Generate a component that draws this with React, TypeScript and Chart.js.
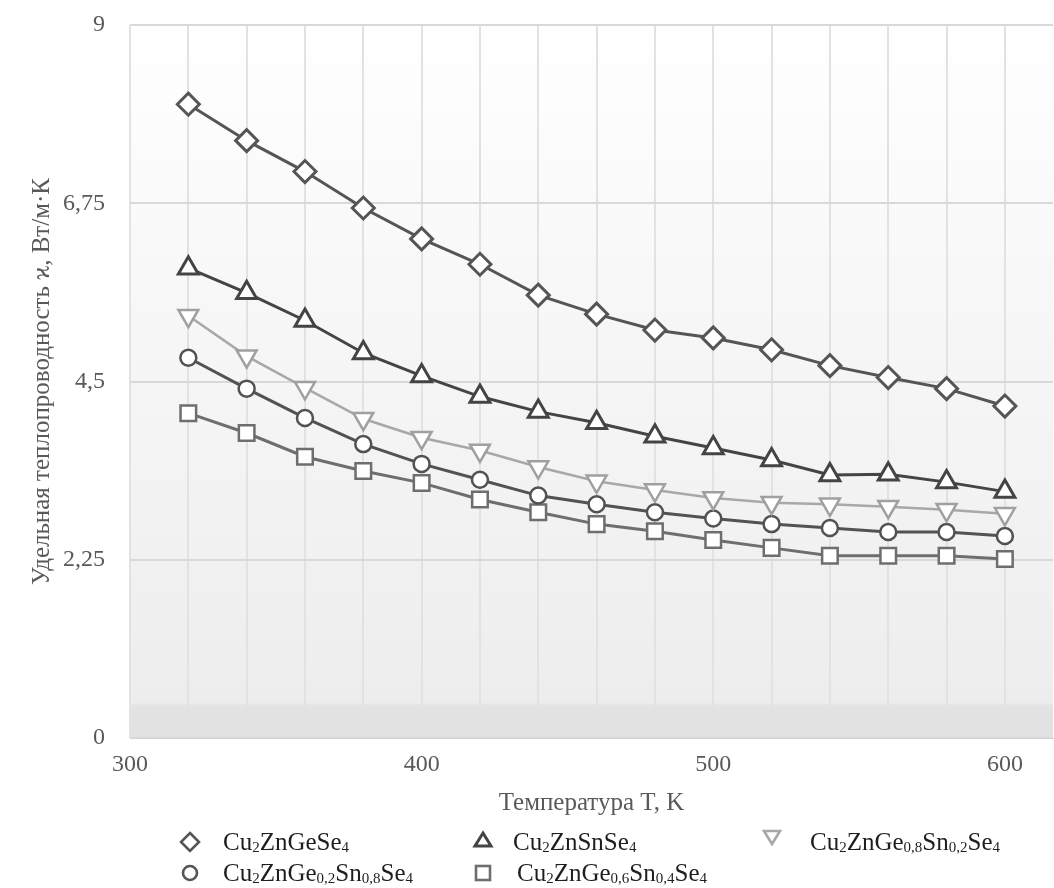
import React, { useEffect, useRef } from 'react';
import { Chart, registerables } from 'chart.js';

Chart.register(...registerables);

// ---- data ----
const temperatures = [320, 340, 360, 380, 400, 420, 440, 460, 480, 500, 520, 540, 560, 580, 600];
const cuZnGeSe4 = [8.0, 7.54, 7.15, 6.69, 6.3, 5.98, 5.59, 5.35, 5.15, 5.05, 4.9, 4.7, 4.55, 4.41, 4.19];
const cuZnSnSe4 = [5.93, 5.62, 5.27, 4.86, 4.57, 4.31, 4.12, 3.98, 3.81, 3.66, 3.51, 3.32, 3.33, 3.23, 3.11];
const ge08Sn02 = [5.33, 4.82, 4.42, 4.03, 3.79, 3.63, 3.42, 3.24, 3.13, 3.03, 2.97, 2.95, 2.92, 2.88, 2.83];
const ge02Sn08 = [4.8, 4.41, 4.04, 3.71, 3.46, 3.26, 3.06, 2.95, 2.85, 2.77, 2.7, 2.65, 2.6, 2.6, 2.55];
const ge06Sn04 = [4.1, 3.85, 3.55, 3.37, 3.22, 3.01, 2.85, 2.7, 2.61, 2.5, 2.4, 2.3, 2.3, 2.3, 2.26];

const xGridTicks = [300, 320, 340, 360, 380, 400, 420, 440, 460, 480, 500, 520, 540, 560, 580, 600];
const xLabelTicks = [300, 400, 500, 600];
const yTicks = [0, 2.25, 4.5, 6.75, 9];

const seriesLabels = [
  'Cu₂ZnGeSe₄',
  'Cu₂ZnSnSe₄',
  'Cu₂ZnGe₀,₈Sn₀,₂Se₄',
  'Cu₂ZnGe₀,₂Sn₀,₈Se₄',
  'Cu₂ZnGe₀,₆Sn₀,₄Se₄',
];
// legend markup: {..} = subscript
const legendMarkup = [
  'Cu{2}ZnGeSe{4}',
  'Cu{2}ZnSnSe{4}',
  'Cu{2}ZnGe{0,8}Sn{0,2}Se{4}',
  'Cu{2}ZnGe{0,2}Sn{0,8}Se{4}',
  'Cu{2}ZnGe{0,6}Sn{0,4}Se{4}',
];

const xTitle = 'Температура T, K';
const yTitle = 'Удельная теплопроводность ϰ, Вт/м·К';

const FONT = "'Liberation Serif', 'Times New Roman', serif";

const bgPlugin = {
  id: 'plotBg',
  beforeDraw(chart: any) {
    const { ctx, chartArea } = chart;
    if (!chartArea) return;
    const { left, top, width, height } = chartArea;
    const g = ctx.createLinearGradient(0, top, 0, top + height);
    g.addColorStop(0, '#ffffff');
    g.addColorStop(0.45, '#f6f6f6');
    g.addColorStop(0.75, '#f1f1f1');
    g.addColorStop(0.95, '#ededed');
    g.addColorStop(0.955, '#e3e3e3');
    g.addColorStop(1, '#e1e1e1');
    ctx.save();
    ctx.fillStyle = g;
    ctx.fillRect(left, top, width, height);
    ctx.restore();
  },
};

function Sub({ markup }: { markup: string }) {
  const parts: React.ReactNode[] = [];
  const re = /\{([^}]*)\}|([^{]+)/g;
  let m: RegExpExecArray | null;
  let i = 0;
  while ((m = re.exec(markup))) {
    if (m[1] !== undefined) {
      parts.push(
        <sub key={i++} style={{ fontSize: '0.6em', verticalAlign: '-0.12em', lineHeight: 0 }}>
          {m[1]}
        </sub>
      );
    } else {
      parts.push(<span key={i++}>{m[2]}</span>);
    }
  }
  return <>{parts}</>;
}

function Marker({ kind, color }: { kind: string; color: string }) {
  const s = 22;
  let shape: React.ReactNode = null;
  const common = { fill: '#ffffff', stroke: color, strokeWidth: 2.6 };
  if (kind === 'diamond') shape = <polygon points="11,2 20,11 11,20 2,11" {...common} />;
  if (kind === 'triangle') shape = <polygon points="11,4 19,17 3,17" {...common} strokeWidth={3} />;
  if (kind === 'down') shape = <polygon points="3,5 19,5 11,18" {...common} />;
  if (kind === 'circle') shape = <circle cx="11" cy="11" r="7" {...common} />;
  if (kind === 'square') shape = <rect x="4" y="4" width="14" height="14" {...common} />;
  return (
    <svg width={s} height={s} viewBox="0 0 22 22" style={{ display: 'block' }}>
      {shape}
    </svg>
  );
}

const legendPos = [
  { kind: 'diamond', color: '#555555', mx: 190, my: 842, tx: 223, ty: 842 },
  { kind: 'triangle', color: '#444444', mx: 483, my: 840, tx: 513, ty: 842 },
  { kind: 'down', color: '#a8a8a8', mx: 772, my: 837, tx: 810, ty: 842 },
  { kind: 'circle', color: '#555555', mx: 190, my: 873, tx: 223, ty: 873 },
  { kind: 'square', color: '#6e6e6e', mx: 483, my: 873, tx: 517, ty: 873 },
];

export default function App() {
  const canvasRef = useRef<HTMLCanvasElement | null>(null);

  useEffect(() => {
    if (!canvasRef.current) return;
    const mk = (vals: number[]) => temperatures.map((t, i) => ({ x: t, y: vals[i] }));
    const chart = new Chart(canvasRef.current, {
      type: 'line',
      data: {
        datasets: [
          {
            label: seriesLabels[0],
            data: mk(cuZnGeSe4),
            borderColor: '#555555',
            borderWidth: 3,
            pointStyle: 'rectRot',
            pointRadius: 11,
            pointBorderWidth: 3,
            pointBackgroundColor: '#ffffff',
            pointBorderColor: '#555555',
          },
          {
            label: seriesLabels[1],
            data: mk(cuZnSnSe4),
            borderColor: '#444444',
            borderWidth: 3,
            pointStyle: 'triangle',
            pointRadius: 11.5,
            pointBorderWidth: 3,
            pointBackgroundColor: '#ffffff',
            pointBorderColor: '#444444',
          },
          {
            label: seriesLabels[2],
            data: mk(ge08Sn02),
            borderColor: '#a8a8a8',
            borderWidth: 2.5,
            pointStyle: 'triangle',
            rotation: 180,
            pointRadius: 11.5,
            pointBorderWidth: 2.5,
            pointBackgroundColor: '#ffffff',
            pointBorderColor: '#a0a0a0',
          } as any,
          {
            label: seriesLabels[3],
            data: mk(ge02Sn08),
            borderColor: '#525252',
            borderWidth: 3,
            pointStyle: 'circle',
            pointRadius: 8,
            pointBorderWidth: 2.5,
            pointBackgroundColor: '#ffffff',
            pointBorderColor: '#525252',
          },
          {
            label: seriesLabels[4],
            data: mk(ge06Sn04),
            borderColor: '#6e6e6e',
            borderWidth: 3,
            pointStyle: 'rect',
            pointRadius: 11,
            pointBorderWidth: 2.5,
            pointBackgroundColor: '#ffffff',
            pointBorderColor: '#6e6e6e',
          },
        ],
      },
      options: {
        responsive: false,
        animation: false,
        layout: { autoPadding: false, padding: { top: 25, right: 1, left: 0, bottom: 50 } },
        plugins: {
          legend: { display: false },
          tooltip: { enabled: false },
        },
        scales: {
          x: {
            type: 'linear',
            min: 300,
            max: 616.5,
            afterBuildTicks: (scale: any) => {
              scale.ticks = xGridTicks.map((v) => ({ value: v }));
            },
            afterFit: (scale: any) => {
              scale.height = 100;
              scale.paddingLeft = 0;
              scale.paddingRight = 0;
            },
            grid: { color: '#e2e2e2', lineWidth: 2, drawTicks: false },
            border: { display: true, color: '#d4d4d4', width: 1 },
            ticks: {
              padding: 12,
              color: '#595959',
              font: { family: FONT, size: 24 },
              maxRotation: 0,
              autoSkip: false,
              callback: (v: any) => (xLabelTicks.includes(Number(v)) ? String(v) : ''),
            },
            title: {
              display: true,
              text: xTitle,
              color: '#595959',
              font: { family: FONT, size: 25, lineHeight: 1.2 },
              padding: { top: 0, bottom: 20 },
            },
          },
          y: {
            min: 0,
            max: 9,
            afterBuildTicks: (scale: any) => {
              scale.ticks = yTicks.map((v) => ({ value: v }));
            },
            afterFit: (scale: any) => {
              scale.width = 130;
              scale.paddingTop = 0;
              scale.paddingBottom = 0;
            },
            grid: { color: '#d9d9d9', lineWidth: 2, drawTicks: false },
            border: { display: false },
            ticks: {
              padding: 25,
              color: '#595959',
              font: { family: FONT, size: 24 },
              callback: (v: any) => String(v).replace('.', ','),
            },
            title: {
              display: true,
              text: yTitle,
              color: '#595959',
              font: { family: FONT, size: 25, lineHeight: 1.2 },
              padding: { top: 27, bottom: 0 },
            },
          },
        },
      },
      plugins: [bgPlugin],
    } as any);
    return () => chart.destroy();
  }, []);

  return (
    <div style={{ position: 'absolute', left: 0, top: 0, width: 1054, height: 888, background: '#ffffff', overflow: 'hidden' }}>
      <canvas ref={canvasRef} width={1054} height={888} style={{ display: 'block', width: 1054, height: 888 }} />
      {legendPos.map((p, i) => (
        <React.Fragment key={i}>
          <div style={{ position: 'absolute', left: p.mx - 11, top: p.my - 11 }}>
            <Marker kind={p.kind} color={p.color} />
          </div>
          <div
            style={{
              position: 'absolute',
              left: p.tx,
              top: p.ty - 15,
              height: 30,
              lineHeight: '30px',
              fontFamily: FONT,
              fontSize: 25,
              color: '#1e1e1e',
              whiteSpace: 'nowrap',
            }}
          >
            <Sub markup={legendMarkup[i]} />
          </div>
        </React.Fragment>
      ))}
    </div>
  );
}
